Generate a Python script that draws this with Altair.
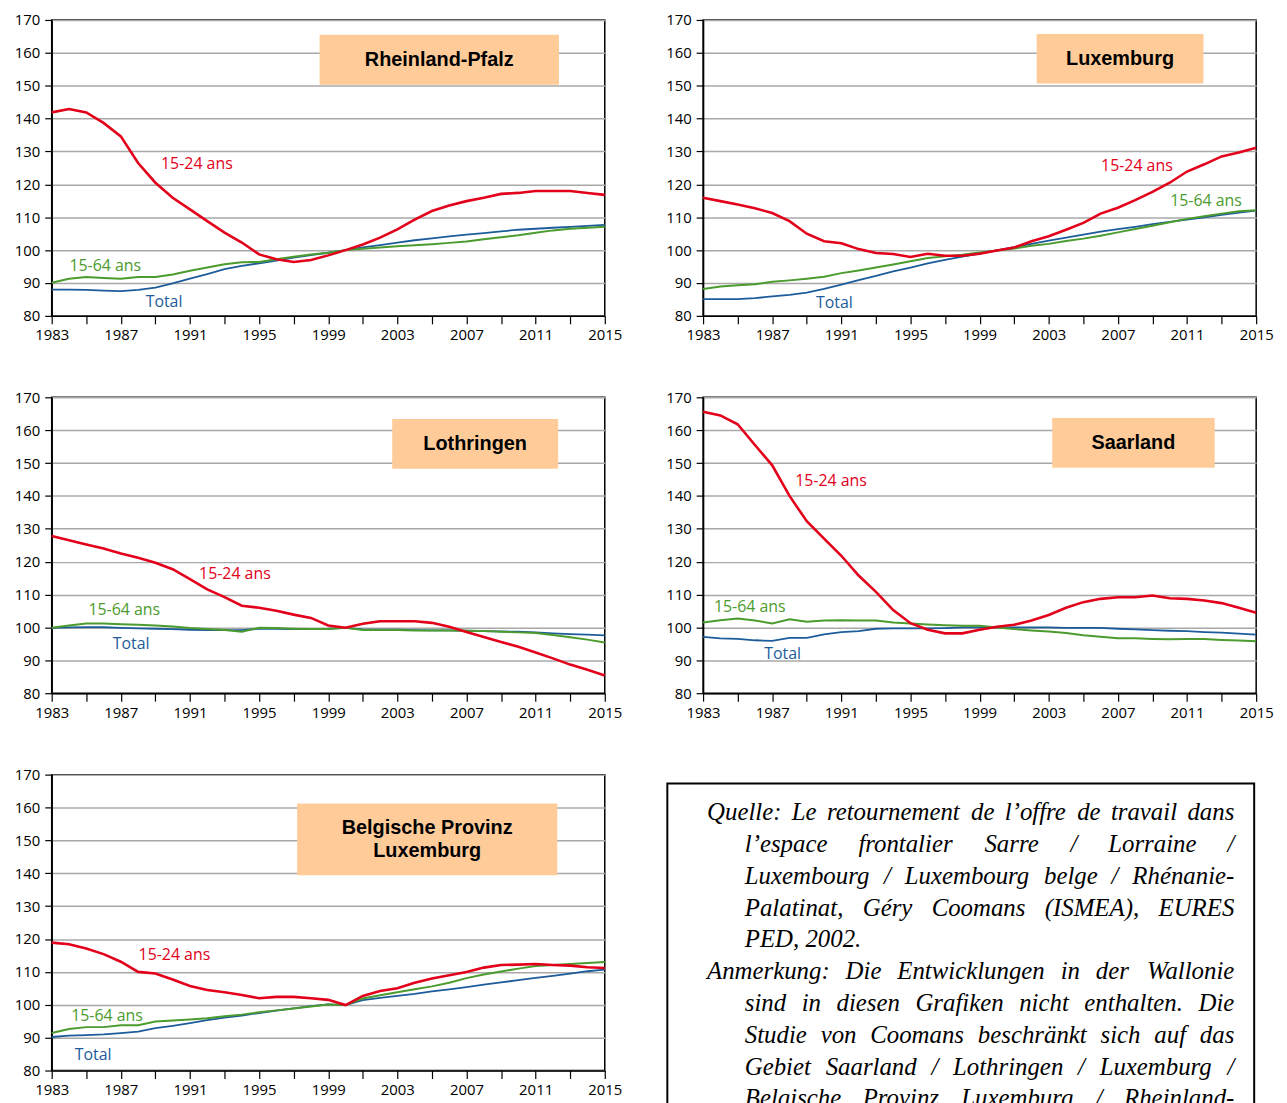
import altair as alt
import pandas as pd

# ---------------- data ----------------
years = list(range(1983, 2016))

rp_1524 = [141.9, 142.9, 141.9, 138.7, 134.6, 126.5, 120.5, 115.9, 112.4, 108.8, 105.3,
           102.3, 98.7, 97.2, 96.4, 97.0, 98.4, 100.0, 101.7, 103.8, 106.3, 109.3, 111.9,
           113.6, 114.9, 115.9, 117.1, 117.4, 118.0, 118.0, 118.0, 117.4, 116.8]
rp_1564 = [90.1, 91.3, 91.8, 91.5, 91.3, 91.8, 91.8, 92.6, 93.7, 94.7, 95.7, 96.3, 96.4,
           97.2, 98.0, 98.7, 99.2, 100.0, 100.4, 100.8, 101.2, 101.5, 101.8, 102.2, 102.6,
           103.3, 103.9, 104.5, 105.3, 106.0, 106.5, 106.8, 107.1]
rp_tot = [88.0, 88.0, 87.9, 87.7, 87.5, 87.9, 88.6, 89.9, 91.3, 92.7, 94.2, 95.2, 96.0,
          96.8, 97.7, 98.5, 99.2, 100.0, 100.8, 101.5, 102.3, 103.0, 103.6, 104.2, 104.7,
          105.2, 105.7, 106.2, 106.5, 106.8, 107.1, 107.4, 107.7]

lu_1524 = [115.9, 114.9, 113.9, 112.7, 111.3, 108.8, 105.0, 102.7, 102.1, 100.3, 99.1,
           98.8, 97.9, 98.9, 98.3, 98.3, 98.9, 99.9, 100.8, 102.7, 104.2, 106.2, 108.3,
           111.1, 112.9, 115.2, 117.7, 120.5, 123.9, 126.1, 128.5, 129.7, 131.1]
lu_1564 = [88.2, 88.9, 89.3, 89.6, 90.4, 90.8, 91.3, 91.9, 93.0, 93.8, 94.7, 95.6, 96.6,
           97.6, 98.1, 98.6, 99.3, 99.9, 100.5, 101.3, 101.9, 102.8, 103.5, 104.4, 105.4,
           106.4, 107.4, 108.5, 109.5, 110.3, 111.1, 111.8, 112.1]
lu_tot = [85.1, 85.1, 85.1, 85.4, 85.9, 86.4, 87.1, 88.2, 89.5, 90.9, 92.2, 93.5, 94.7,
          96.0, 97.0, 98.0, 98.9, 99.9, 100.9, 101.9, 102.9, 103.8, 104.7, 105.6, 106.4,
          107.1, 107.9, 108.6, 109.3, 110.0, 110.7, 111.4, 112.0]

lo_1524 = [127.8, 126.5, 125.2, 124.0, 122.5, 121.2, 119.7, 117.7, 114.7, 111.6, 109.2,
           106.6, 106.0, 105.1, 103.9, 102.9, 100.6, 99.9, 101.1, 101.9, 101.9, 101.9, 101.4,
           100.2, 98.6, 97.1, 95.6, 94.1, 92.4, 90.6, 88.7, 87.1, 85.4]
lo_1564 = [99.9, 100.6, 101.2, 101.2, 101.0, 100.8, 100.6, 100.3, 99.8, 99.5, 99.2, 98.7,
           99.9, 99.8, 99.6, 99.5, 99.5, 99.9, 99.2, 99.2, 99.2, 99.1, 99.1, 99.1, 99.0,
           98.9, 98.7, 98.5, 98.3, 97.7, 97.0, 96.3, 95.4]
lo_tot = [99.9, 100.0, 100.1, 100.1, 99.9, 99.7, 99.6, 99.5, 99.3, 99.2, 99.2, 99.2, 99.6,
          99.6, 99.5, 99.5, 99.6, 99.9, 99.4, 99.3, 99.3, 99.2, 99.1, 99.1, 99.0, 98.9,
          98.8, 98.7, 98.5, 98.2, 98.0, 97.8, 97.6]

sa_1524 = [165.6, 164.5, 161.8, 155.5, 149.3, 140.0, 132.3, 127.0, 121.8, 115.8, 110.8,
           105.3, 101.3, 99.3, 98.2, 98.2, 99.3, 100.2, 100.8, 102.1, 103.8, 106.0, 107.7,
           108.7, 109.2, 109.2, 109.7, 108.9, 108.7, 108.2, 107.4, 106.0, 104.5]
sa_1564 = [101.5, 102.2, 102.7, 102.1, 101.2, 102.5, 101.7, 102.1, 102.2, 102.1, 102.1,
           101.5, 101.2, 100.9, 100.7, 100.5, 100.5, 100.0, 99.5, 99.1, 98.8, 98.3, 97.6,
           97.2, 96.7, 96.7, 96.5, 96.4, 96.5, 96.5, 96.2, 96.0, 95.8]
sa_tot = [97.1, 96.7, 96.5, 96.1, 95.9, 96.8, 96.8, 97.9, 98.6, 98.9, 99.6, 99.7, 99.7,
          99.7, 99.8, 100.0, 100.0, 100.0, 100.0, 100.0, 100.0, 99.9, 99.9, 99.9, 99.6,
          99.4, 99.2, 99.0, 98.9, 98.6, 98.4, 98.1, 97.8]

be_1524 = [118.9, 118.4, 117.1, 115.4, 113.1, 110.0, 109.5, 107.7, 105.7, 104.5, 103.8,
           103.0, 102.0, 102.4, 102.4, 102.0, 101.5, 99.9, 102.7, 104.2, 105.0, 106.7, 108.0,
           109.0, 110.0, 111.3, 112.1, 112.2, 112.4, 112.1, 111.9, 111.4, 111.2]
be_1564 = [91.4, 92.6, 93.2, 93.2, 93.8, 93.8, 94.9, 95.2, 95.5, 95.9, 96.5, 97.0, 97.7,
           98.3, 98.9, 99.5, 100.1, 99.9, 101.9, 102.9, 103.8, 104.7, 105.6, 106.7, 108.1,
           109.2, 110.1, 111.0, 111.8, 112.1, 112.4, 112.7, 113.0]
be_tot = [90.2, 90.6, 90.8, 91.0, 91.4, 91.8, 92.9, 93.6, 94.4, 95.3, 96.1, 96.7, 97.5,
          98.2, 98.9, 99.6, 100.1, 99.9, 101.4, 102.1, 102.7, 103.3, 104.1, 104.7, 105.4,
          106.1, 106.8, 107.5, 108.2, 108.8, 109.5, 110.2, 110.7]

series_names = ["Total", "15-64 ans", "15-24 ans"]
y_ticks = list(range(80, 171, 10))
x_ticks = list(range(1983, 2016, 2))

panel_titles = {
    "rp": ["Rheinland-Pfalz"],
    "lu": ["Luxemburg"],
    "lo": ["Lothringen"],
    "sa": ["Saarland"],
    "be": ["Belgische Provinz", "Luxemburg"],
}

# label anchor positions (year, value) per panel: 15-24, 15-64, Total
label_pos = {
    "rp": [(1991.4, 126.1), (1986.1, 95.2), (1989.5, 84.2)],
    "lu": [(2008.1, 125.6), (2012.1, 114.9), (1990.6, 84.0)],
    "lo": [(1993.6, 116.1), (1987.2, 105.3), (1987.6, 95.0)],
    "sa": [(1990.4, 144.4), (1985.7, 106.2), (1987.6, 92.0)],
    "be": [(1990.1, 115.2), (1986.2, 96.7), (1985.4, 84.8)],
}
# title box extents: year0, year1, val_top, val_bottom
box_pos = {
    "rp": (1998.5, 2012.35, 165.5, 150.3),
    "lu": (2002.3, 2011.95, 165.7, 150.7),
    "lo": (2002.7, 2012.3, 163.4, 148.3),
    "sa": (2003.2, 2012.6, 163.7, 148.6),
    "be": (1997.2, 2012.25, 161.2, 139.4),
}

RED = "#e2001a"
GREEN = "#4b9b2e"
BLUE = "#1d5c9b"
W, H = 557, 298

XS = alt.Scale(domain=[1983, 2015], nice=False, zero=False)
YS = alt.Scale(domain=[80, 170], nice=False, zero=False)
X_AXIS = alt.Axis(values=x_ticks, title=None, grid=False, tickSize=8, labelPadding=4,
                  labelFlush=False, labelOverlap=False, labelFont="Open Sans",
                  labelFontSize=15, labelColor="black",
                  labelExpr="(datum.value - 1983) % 4 == 0 ? datum.value : ''")
Y_AXIS = alt.Axis(values=y_ticks, title=None, grid=True, gridColor="#a8a8a8",
                  gridWidth=1.5, tickSize=7, labelPadding=5, labelFlush=False,
                  labelFont="Open Sans", labelFontSize=15, labelColor="black")


def ex(f):
    return alt.X(f + ":Q", scale=XS, axis=X_AXIS, title=None)


def ey(f):
    return alt.Y(f + ":Q", scale=YS, axis=Y_AXIS, title=None)


def panel(key, s1524, s1564, stot):
    df = pd.DataFrame({
        "year": years * 3,
        "value": stot + s1564 + s1524,
        "series": ["Total"] * 33 + ["15-64 ans"] * 33 + ["15-24 ans"] * 33,
    })
    b = box_pos[key]
    box_df = pd.DataFrame({"bx": [b[0]], "bx2": [b[1]], "by": [b[2]], "by2": [b[3]]})
    box = alt.Chart(box_df).mark_rect(color="#ffcc99").encode(
        x=ex("bx"), x2="bx2:Q", y=ey("by"), y2="by2:Q",
    )
    layers = [box]
    widths = {"Total": 1.8, "15-64 ans": 2.0, "15-24 ans": 2.6}
    colors = {"Total": BLUE, "15-64 ans": GREEN, "15-24 ans": RED}
    for s in series_names:
        layers.append(
            alt.Chart(df).transform_filter(alt.datum.series == s)
            .mark_line(color=colors[s], strokeWidth=widths[s])
            .encode(x=ex("year"), y=ey("value"))
        )
    lp = label_pos[key]
    lab_df = pd.DataFrame({
        "lx": [p[0] for p in lp], "ly": [p[1] for p in lp],
        "t": ["15-24 ans", "15-64 ans", "Total"],
        "c": [RED, GREEN, BLUE],
    })
    layers.append(
        alt.Chart(lab_df).mark_text(font="Open Sans", fontSize=16).encode(
            x=ex("lx"), y=ey("ly"), text="t:N",
            color=alt.Color("c:N", scale=None),
        )
    )
    tl = panel_titles[key]
    cx = (b[0] + b[1]) / 2
    if len(tl) == 1:
        tys = [(b[2] + b[3]) / 2]
    else:
        mid = (b[2] + b[3]) / 2
        tys = [mid + 3.6, mid - 3.6]
    t_df = pd.DataFrame({"tx": [cx] * len(tl), "ty": tys, "t": tl})
    layers.append(
        alt.Chart(t_df).mark_text(font="Liberation Sans", fontWeight="bold", fontSize=20,
                                  color="black").encode(
            x=ex("tx"), y=ey("ty"), text="t:N",
        )
    )
    return alt.layer(*layers).properties(
        width=W, height=H, view=alt.ViewConfig(stroke="black", strokeWidth=1.5)
    )


# ---------------- text box ----------------
note_lines = [
    ("Quelle: Le retournement de l\u2019offre de travail dans", 0, True),
    ("l\u2019espace frontalier Sarre / Lorraine /", 1, True),
    ("Luxembourg / Luxembourg belge / Rh\u00e9nanie-", 1, True),
    ("Palatinat, G\u00e9ry Coomans (ISMEA), EURES", 1, True),
    ("PED, 2002.", 1, False),
    ("Anmerkung: Die Entwicklungen in der Wallonie", 0, True),
    ("sind in diesen Grafiken nicht enthalten. Die", 1, True),
    ("Studie von Coomans beschr\u00e4nkt sich auf das", 1, True),
    ("Gebiet Saarland / Lothringen / Luxemburg /", 1, True),
    ("Belgische Provinz Luxemburg / Rheinland-", 1, True),
    ("Pfalz.", 1, False),
]

# approximate Times Italic advance widths (per 1000 em), used only for justification
_tw = {
    " ": 250, "'": 333, "\u2019": 333, "(": 333, ")": 333, ",": 250, "-": 333, ".": 250,
    "/": 278, ":": 333, "A": 611, "B": 611, "C": 667, "D": 722, "E": 611, "F": 611,
    "G": 722, "H": 722, "I": 333, "J": 444, "K": 667, "L": 556, "M": 833, "N": 667,
    "O": 722, "P": 611, "Q": 722, "R": 611, "S": 500, "T": 556, "U": 722, "V": 611,
    "W": 833, "X": 611, "Y": 556, "Z": 556, "a": 500, "b": 500, "c": 444, "d": 500,
    "e": 444, "f": 278, "g": 500, "h": 500, "i": 278, "j": 278, "k": 444, "l": 278,
    "m": 722, "n": 500, "o": 500, "p": 500, "q": 500, "r": 389, "s": 389, "t": 278,
    "u": 500, "v": 444, "w": 667, "x": 444, "y": 444, "z": 389, "\u00e9": 444,
    "\u00e4": 500,
}
FS = 25
TB_X0 = -36            # box left edge relative to the grid column
TB_X1 = TB_X0 + 591
LEFT0, LEFT1, RIGHT = TB_X0 + 40, TB_X0 + 78, TB_X0 + 571
BASE0, LEAD = 46, 32


def wwidth(w):
    return sum(_tw.get(ch, 500) for ch in w) * FS / 1000.0


rows = []
for i, (line, ind, just) in enumerate(note_lines):
    words = line.split(" ")
    left = LEFT0 if ind == 0 else LEFT1
    ws = [wwidth(w) for w in words]
    if just and len(words) > 1:
        gap = (RIGHT - left - sum(ws)) / (len(words) - 1)
    else:
        gap = 250 * FS / 1000.0
    x = left
    for j, w in enumerate(words):
        if just and len(words) > 1 and j == len(words) - 1:
            rows.append({"w": w, "x": RIGHT, "y": BASE0 + i * LEAD, "a": "right"})
        else:
            rows.append({"w": w, "x": x, "y": BASE0 + i * LEAD, "a": "left"})
        x += ws[j] + gap
words_df = pd.DataFrame(rows)

frame = alt.Chart(pd.DataFrame({"k": [0]})).mark_rect(
    fill="white", stroke="black", strokeWidth=2
).encode(x=alt.value(TB_X0), x2=alt.value(TB_X1), y=alt.value(9), y2=alt.value(360))

txt_left = alt.Chart(words_df).transform_filter(alt.datum.a == "left").mark_text(
    font="Liberation Serif", fontStyle="italic", fontSize=FS, align="left",
    baseline="alphabetic", color="black"
).encode(x=alt.X("x:Q", scale=None), y=alt.Y("y:Q", scale=None), text="w:N")
txt_right = alt.Chart(words_df).transform_filter(alt.datum.a == "right").mark_text(
    font="Liberation Serif", fontStyle="italic", fontSize=FS, align="right",
    baseline="alphabetic", color="black"
).encode(x=alt.X("x:Q", scale=None), y=alt.Y("y:Q", scale=None), text="w:N")

note = alt.layer(frame, txt_left, txt_right).properties(
    width=W, height=H, view=alt.ViewConfig(stroke="transparent")
)

p_rp = panel("rp", rp_1524, rp_1564, rp_tot)
p_lu = panel("lu", lu_1524, lu_1564, lu_tot)
p_lo = panel("lo", lo_1524, lo_1564, lo_tot)
p_sa = panel("sa", sa_1524, sa_1564, sa_tot)
p_be = panel("be", be_1524, be_1564, be_tot)

chart = alt.concat(
    p_rp, p_lu, p_lo, p_sa, p_be, note,
    columns=2, spacing=alt.RowColnumber(row=82, column=99), bounds="flush",
).properties(
    padding={"top": 0, "left": 5, "right": 5, "bottom": 5}
).configure(background="white").configure_axis(
    domainColor="black", domainWidth=1.5, tickColor="black", tickWidth=1.2,
)

chart.save("out.html", embed_options={"renderer": "svg", "actions": False})
